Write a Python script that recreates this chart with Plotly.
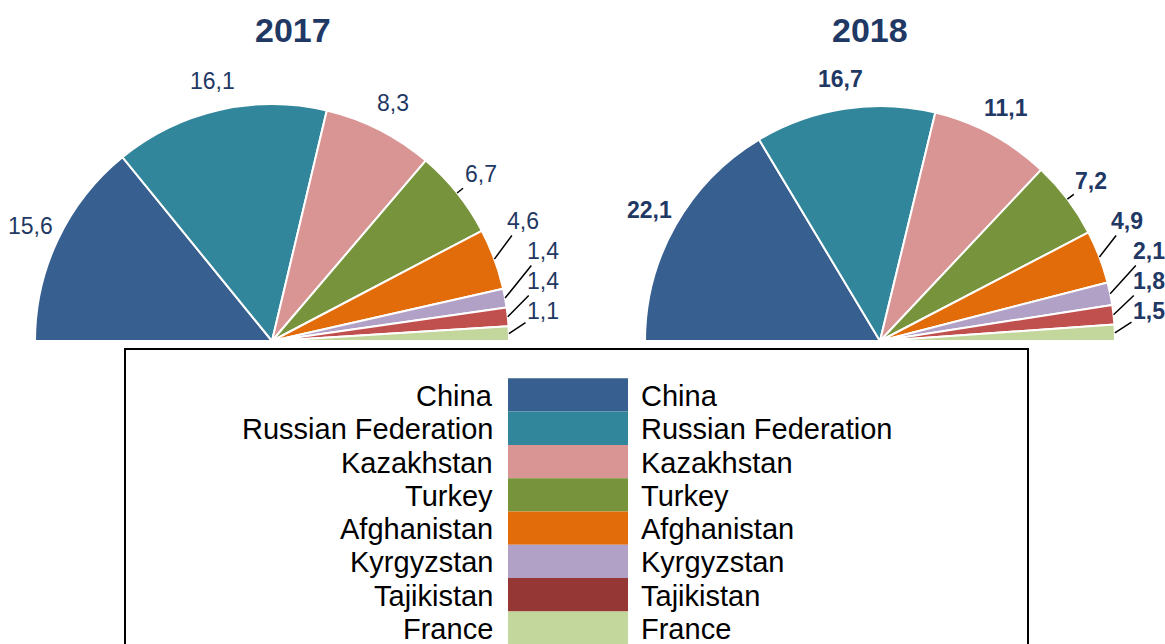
import math
import plotly.graph_objects as go

countries = ["China", "Russian Federation", "Kazakhstan", "Turkey",
             "Afghanistan", "Kyrgyzstan", "Tajikistan", "France"]
values_2017 = [15.6, 16.1, 8.3, 6.7, 4.6, 1.4, 1.4, 1.1]
values_2018 = [22.1, 16.7, 11.1, 7.2, 4.9, 2.1, 1.8, 1.5]
pie_colors = ["#375F8F", "#31869B", "#D99594", "#77933C",
              "#E36C0A", "#B2A1C7", "#C0504D", "#C3D69B"]
legend_colors = ["#375F8F", "#31869B", "#D99594", "#77933C",
                 "#E36C0A", "#B2A1C7", "#953735", "#C3D69B"]

W, H = 1165, 644
NAVY = "#1F3864"
FONT = "Arial, Liberation Sans, sans-serif"


def px(x):
    return x / W


def py(y):
    return 1 - y / H


def half_pie(values, cx, cy, r):
    # hidden slice equal to the total makes the visible part a half circle
    vals = values + [sum(values)]
    return go.Pie(
        values=vals, labels=countries + ["hidden"], sort=False,
        direction="clockwise", rotation=-90,
        marker=dict(colors=pie_colors + ["rgba(0,0,0,0)"],
                    line=dict(color=["white"] * len(values) + ["rgba(0,0,0,0)"], width=2)),
        textinfo="none", hoverinfo="skip", showlegend=False,
        domain=dict(x=[px(cx - r), px(cx + r)], y=[py(cy + r), py(cy - r)]),
    )


def value_labels(values, cx, cy, r, bold):
    total = sum(values)
    fmt = "<b>{}</b>" if bold else "{}"
    rl = r + 30
    items = []
    cum = 0
    for v in values:
        mid = math.radians(180 - (cum + v / 2) / total * 180)
        span = v / total * 180
        cum += v
        items.append([v, mid, span, cx + rl * math.cos(mid), cy - rl * math.sin(mid)])
    # push the small right-hand labels apart, working up from the bottom
    limit = cy - 30
    for it in reversed(items):
        if it[1] < math.pi / 2:
            if it[4] > limit:
                it[4] = limit
                if it[2] < 8:
                    it[3] = cx + r + 34
            limit = it[4] - 30
    anns = []
    for v, mid, span, lx, ly in items:
        text = fmt.format(f"{v:.1f}".replace(".", ","))
        a = dict(text=text, xref="paper", yref="paper",
                 xanchor="center", yanchor="middle",
                 font=dict(family=FONT, size=23, color=NAVY))
        if span < 25:
            tx, ty = cx + r * math.cos(mid), cy - r * math.sin(mid)
            a.update(x=px(tx), y=py(ty), showarrow=True, arrowhead=0,
                     arrowwidth=1.5, arrowcolor="black", standoff=0,
                     ax=lx - tx, ay=ly - ty)
        else:
            a.update(x=px(lx), y=py(ly), showarrow=False)
        anns.append(a)
    return anns


fig = go.Figure()
fig.add_trace(half_pie(values_2017, 272, 341, 237))
fig.add_trace(half_pie(values_2018, 880, 341, 235))

annotations = []
for label, x in [("2017", 293), ("2018", 870)]:
    annotations.append(dict(text=f"<b>{label}</b>", x=px(x), y=py(30),
                            xref="paper", yref="paper", showarrow=False,
                            xanchor="center", yanchor="middle",
                            font=dict(family=FONT, size=34, color=NAVY)))
annotations += value_labels(values_2017, 272, 341, 237, bold=False)
annotations += value_labels(values_2018, 880, 341, 235, bold=True)

# legend table drawn by hand: label | swatch | label
shapes = [dict(type="rect", xref="paper", yref="paper",
               x0=px(125), x1=px(1028), y0=py(662), y1=py(349),
               line=dict(color="black", width=2), fillcolor="rgba(0,0,0,0)")]
row_top, row_h = 378.3, 33.3
for i, (name, col) in enumerate(zip(countries, legend_colors)):
    top = row_top + i * row_h
    shapes.append(dict(type="rect", xref="paper", yref="paper", layer="below",
                       x0=px(508), x1=px(628), y0=py(top + row_h), y1=py(top),
                       line=dict(width=0), fillcolor=col))
    yc = py(top + row_h / 2 + 1)
    for x, anchor in [(495, "right"), (639, "left")]:
        annotations.append(dict(text=name, x=px(x), y=yc, xanchor=anchor,
                                yanchor="middle", xref="paper", yref="paper",
                                showarrow=False,
                                font=dict(family=FONT, size=29, color="black")))

fig.update_layout(
    width=W, height=H,
    margin=dict(l=0, r=0, t=0, b=0),
    paper_bgcolor="white", plot_bgcolor="white",
    shapes=shapes, annotations=annotations,
)

fig.write_html("out.html", config={"displayModeBar": False},
               post_script="document.body.style.margin = '0px';")
